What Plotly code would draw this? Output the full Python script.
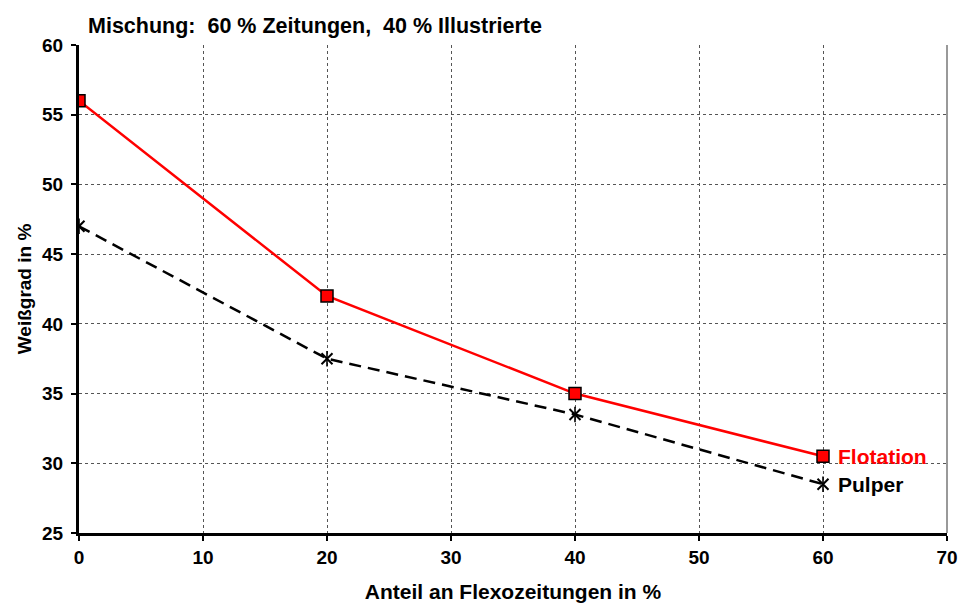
import plotly.graph_objects as go

anteil = [0, 20, 40, 60]
flotation = [56, 42, 35, 30.5]
pulper = [47, 37.5, 33.5, 28.5]

x_ticks = [0, 10, 20, 30, 40, 50, 60, 70]
y_ticks = [25, 30, 35, 40, 45, 50, 55, 60]

FONT = "Liberation Sans, Arial, sans-serif"

fig = go.Figure()

# Pulper: dashed black line, star marker built from an "x" and a vertical bar
fig.add_trace(go.Scatter(
    x=anteil, y=pulper, mode="lines+markers", name="Pulper",
    line=dict(color="black", width=2.5, dash="12px,7px"),
    marker=dict(symbol="x-thin-open", size=11, color="black",
                line=dict(color="black", width=2)),
))
fig.add_trace(go.Scatter(
    x=anteil, y=pulper, mode="markers", hoverinfo="skip",
    marker=dict(symbol="line-ns-open", size=11, color="black",
                line=dict(color="black", width=1.6)),
))
fig.add_trace(go.Scatter(
    x=anteil, y=flotation, mode="lines+markers", name="Flotation",
    line=dict(color="#ff0000", width=2.5),
    marker=dict(symbol="square", size=12, color="#ff0000",
                line=dict(color="black", width=1.5)),
))

fig.add_annotation(x=anteil[-1], y=flotation[-1], text="<b>Flotation</b>",
                   xanchor="left", yanchor="middle", xshift=13, showarrow=False,
                   font=dict(family=FONT, size=21, color="#ff0000"))
fig.add_annotation(x=anteil[-1], y=pulper[-1], text="<b>Pulper</b>",
                   xanchor="left", yanchor="middle", xshift=13, showarrow=False,
                   font=dict(family=FONT, size=21, color="black"))

fig.add_annotation(x=0, y=1, xref="paper", yref="paper",
                   text="<b>Mischung:  60 % Zeitungen,  40 % Illustrierte</b>",
                   xanchor="left", yanchor="bottom", xshift=7, yshift=5, showarrow=False,
                   font=dict(family=FONT, size=21.5, color="black"))

axis_common = dict(
    showgrid=True, gridcolor="#555555", griddash="dot", gridwidth=1,
    ticks="outside", ticklen=5, tickwidth=2, tickcolor="black",
    showline=True, linecolor="black", linewidth=3,
    tickfont=dict(family=FONT, size=19, color="black", weight="bold"),
    zeroline=False, automargin=False,
)

fig.update_xaxes(range=[0, 70], tickvals=x_ticks,
                 ticktext=[f"<b>{v}</b>" for v in x_ticks],
                 title=dict(text="<b>Anteil an Flexozeitungen in %</b>",
                            font=dict(family=FONT, size=21, color="black"), standoff=20),
                 **axis_common)
fig.update_yaxes(range=[25, 60], tickvals=y_ticks,
                 ticktext=[f"<b>{v}</b>" for v in y_ticks],
                 ticklabelstandoff=4,
                 title=dict(text="<b>Weißgrad in %</b>",
                            font=dict(family=FONT, size=19, color="black"), standoff=6),
                 **axis_common)

# thin frame on the right side
fig.add_shape(type="line", xref="paper", yref="paper", x0=1, x1=1, y0=0, y1=1,
              line=dict(color="#777777", width=1.5))

fig.update_layout(
    width=958, height=603,
    margin=dict(l=79, r=11, t=45, b=70),
    paper_bgcolor="white", plot_bgcolor="white",
    showlegend=False,
    font=dict(family=FONT, color="black"),
)

fig.write_html("out.html")
